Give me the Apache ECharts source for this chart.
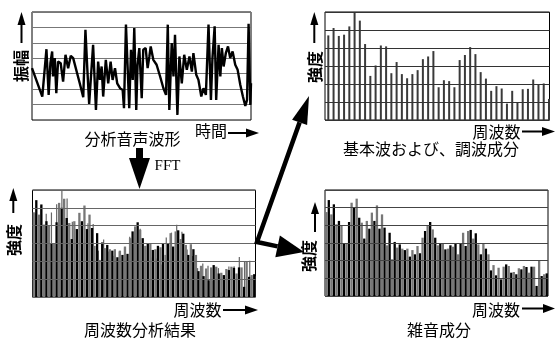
<!DOCTYPE html>
<html><head><meta charset="utf-8">
<script src="https://cdn.jsdelivr.net/npm/echarts/dist/echarts.min.js"></script>
<style>html,body{margin:0;padding:0;background:#fff}#c{width:556px;height:340px}</style>
</head><body><div id="c"></div>
<script>
// ---- data ----
const waveTime = [0,4.7,6.6,7.6,8.4,9.2,9.6,10.4,11.1,11.9,13.1,14.2,15.3,16.5,17.7,18.8,21.8,23.4,24.4,25.2,26.1,27.9,29.2,30.2,31.0,31.8,32.5,33.7,34.8,35.9,36.8,37.9,38.9,40.2,41.4,42.0,42.9,43.5,44.4,45.2,46.0,46.7,47.6,48.2,49.0,50.1,50.8,51.9,52.8,53.6,54.2,55.4,56.9,58.5,60.0,61.2,62.0,62.7,63.8,64.6,65.3,66.4,67.3,68.4,69.5,70.7,71.9,73.0,73.7,75.0,76.0,77.3,78.3,79.4,80.6,81.7,82.4,83.4,84.1,85.2,86.0,86.7,87.5,88.5,89.5,90.5,91.6,92.8,93.9,95.1,96.3,97.4,98.2,98.9,99.7,100];
const waveAmp = [3.36,1.52,4.59,1.63,3.68,4.44,2.82,4.01,1.73,3.79,3.68,2.49,4.23,3.36,4.16,4.01,2.38,1.47,5.85,3.47,1.04,4.88,0.65,3.79,2.60,3.47,1.52,3.90,2.38,3.79,2.60,3.36,2.38,2.06,1.95,0.76,6.18,6.07,0.76,4.55,2.60,5.96,0.65,3.58,4.66,1.41,4.55,4.66,3.36,4.12,4.77,3.90,3.58,2.82,2.06,1.63,6.18,0.65,4.98,2.82,5.53,0.33,4.12,2.38,4.23,3.25,4.12,3.14,4.33,2.93,2.60,1.52,2.06,1.63,6.18,1.30,4.01,6.07,1.30,4.88,2.82,4.66,3.47,4.33,4.77,4.01,4.44,3.58,3.25,2.28,1.52,0.91,1.30,6.24,0.98,2.38];
const harmonicLevels = [4.70,5.11,4.67,4.74,5.20,6.0,5.52,4.22,2.45,3.03,4.14,4.09,2.60,3.22,2.55,2.32,2.55,2.77,3.38,3.53,3.83,1.82,2.21,2.16,1.82,3.33,3.61,4.05,3.66,2.66,2.30,1.62,1.88,1.75,0.91,1.62,0.95,1.71,1.73,2.25,1.99,2.03,1.17];
const noiseLevels = [4.75,5.43,4.62,5.19,4.06,4.25,4.0,2.98,2.98,4.19,
5.28,5.0,5.51,4.43,4.15,3.25,4.25,3.81,4.72,4.25,
5.13,3.81,4.62,3.87,2.87,3.58,2.08,3.06,2.74,2.92,
2.68,2.60,2.68,2.23,2.60,2.36,2.83,2.42,3.30,3.68,
3.96,4.19,3.77,
3.30,2.87,2.98,2.98,2.64,2.68,2.87,2.79,2.98,2.36,
2.98,3.58,2.83,3.68,3.74,3.25,3.55,2.92,2.36,2.96,
2.68,2.36,1.45,1.75,1.17,1.60,0.94,1.66,1.79,1.70,
1.32,1.36,1.23,1.57,1.51,1.70,1.64,1.32,1.66,1.66,
0.57,1.98,1.13,1.23,1.28];
const labelAmplitude = '振幅';
const labelIntensity = '強度';
const labelTime = '時間';
const labelFreq = '周波数';
const captionWave = '分析音声波形';
const captionSpectrum = '周波数分析結果';
const captionHarmonic = '基本波および、調波成分';
const captionNoise = '雑音成分';
const labelFFT = 'FFT';

// ---- chart ----
const chart = echarts.init(document.getElementById('c'), null, {renderer:'canvas'});
const JP = '"Noto Sans CJK JP", sans-serif';
const harmPairs = harmonicLevels.map((v,i)=>[i,v]);
const noiseCats = noiseLevels.map((v,i)=>i);
const noiseColor = p => (p.dataIndex % 2 ? '#000' : '#777');

function yAx(grid, max, color, z){
  return {gridIndex:grid, type:'value', min:0, max:max, interval:1, z:z,
    axisLine:{show:false}, axisTick:{show:false}, axisLabel:{show:false},
    splitLine:{show:true, lineStyle:{color:color, width:1}}};
}
const gridBase = {show:true, borderColor:'#000', borderWidth:1, backgroundColor:'#fff'};

function txt(x,y,text,size,opts){
  opts = opts || {};
  return {type:'text', x:x, y:y, rotation:opts.rot||0, z:10,
    style:{text:text, x:0, y:0, fill:'#000', textAlign:'center', textVerticalAlign:'middle',
      font:(opts.weight||'normal')+' '+size+'px '+(opts.family||JP)}};
}
function upArrow(x, tip, base, end){
  return [
    {type:'line', z:10, shape:{x1:x,y1:end,x2:x,y2:base}, style:{stroke:'#000', lineWidth:2}},
    {type:'polygon', z:10, shape:{points:[[x,tip],[x-4,base],[x+4,base]]}, style:{fill:'#000'}}
  ];
}
function rightArrow(y, x0, hx, tip){
  return [
    {type:'line', z:10, shape:{x1:x0,y1:y,x2:hx,y2:y}, style:{stroke:'#000', lineWidth:2}},
    {type:'polygon', z:10, shape:{points:[[tip,y],[hx,y-4.5],[hx,y+4.5]]}, style:{fill:'#000'}}
  ];
}
function bigArrowHead(sx, sy, tx, ty, len, half){
  const dx = tx-sx, dy = ty-sy, L = Math.hypot(dx,dy);
  const ux = dx/L, uy = dy/L, bx = tx-ux*len, by = ty-uy*len;
  return {base:[bx,by], poly:[[tx,ty],[bx-uy*half, by+ux*half],[bx+uy*half, by-ux*half]]};
}
const S = [257, 242];
const h1 = bigArrowHead(S[0],S[1],309,96,28,8);
const h2 = bigArrowHead(S[0],S[1],304,252,27,11);

const graphics = [].concat(
  txt(21,66,labelAmplitude,16,{rot:Math.PI/2, weight:'bold'}),
  upArrow(21.5,12,25,43),
  txt(211,131,labelTime,16),
  rightArrow(133,228,246,259),
  txt(132.5,139,captionWave,16),
  [{type:'rect', z:10, shape:{x:136,y:148,width:7,height:11}, style:{fill:'#000'}},
   {type:'polygon', z:10, shape:{points:[[129,158],[150,158],[139.5,189]]}, style:{fill:'#000'}}],
  txt(167.5,166.5,labelFFT,15,{family:'"Liberation Serif", serif'}),
  txt(315,67,labelIntensity,16,{rot:Math.PI/2, weight:'bold'}),
  upArrow(314.3,12,25,43),
  txt(496.5,131.5,labelFreq,16),
  rightArrow(131.5,522,542,555),
  txt(431,148.5,captionHarmonic,16),
  txt(14,240,labelIntensity,16,{rot:Math.PI/2, weight:'bold'}),
  upArrow(13.3,188,201,213),
  txt(197.5,310,labelFreq,16),
  rightArrow(310,223,245,258),
  txt(140,329.5,captionSpectrum,16),
  txt(309,256,labelIntensity,16,{rot:Math.PI/2, weight:'bold'}),
  upArrow(315,202,214,232),
  txt(496,309.5,labelFreq,16),
  rightArrow(308.5,522,543,555),
  txt(439,329.5,captionNoise,16),
  [{type:'polyline', z:10, shape:{points:[h1.base, S, h2.base]}, style:{stroke:'#000', lineWidth:4.5, lineJoin:'miter', fill:null}},
   {type:'polygon', z:10, shape:{points:h1.poly}, style:{fill:'#000'}},
   {type:'polygon', z:10, shape:{points:h2.poly}, style:{fill:'#000'}}]
);

chart.setOption({
  animation:false,
  backgroundColor:'#fff',
  grid:[
    Object.assign({left:32, top:12, width:219, height:108}, gridBase),
    Object.assign({left:325, top:12, width:224.5, height:108}, gridBase),
    Object.assign({left:32.5, top:190, width:223, height:107}, gridBase),
    Object.assign({left:325, top:190, width:223, height:106}, gridBase)
  ],
  xAxis:[
    {gridIndex:0, type:'value', min:0, max:100, show:false},
    {gridIndex:1, type:'value', min:-0.63, max:42.1, show:false},
    {gridIndex:2, type:'category', data:noiseCats, boundaryGap:true, show:false},
    {gridIndex:2, type:'value', min:-0.63, max:42.1, show:false},
    {gridIndex:3, type:'category', data:noiseCats, boundaryGap:true, show:false}
  ],
  yAxis:[
    yAx(0,7,'#777',0),
    yAx(1,6,'#333',5),
    yAx(2,6,'#666',5),
    yAx(3,6,'#444',5)
  ],
  series:[
    {type:'line', xAxisIndex:0, yAxisIndex:0, data:waveTime.map((t,i)=>[t, waveAmp[i]]),
     showSymbol:false, lineStyle:{color:'#000', width:2.4}, z:3},
    {type:'bar', xAxisIndex:1, yAxisIndex:1, data:harmPairs, barWidth:2, itemStyle:{color:'#3a3a3a'}},
    {type:'bar', xAxisIndex:3, yAxisIndex:2, data:harmPairs, barWidth:1.2, itemStyle:{color:'#666'}, z:1},
    {type:'bar', xAxisIndex:2, yAxisIndex:2, data:noiseLevels, barWidth:2.3, itemStyle:{color:noiseColor}, z:2},
    {type:'bar', xAxisIndex:4, yAxisIndex:3, data:noiseLevels, barWidth:2.3, itemStyle:{color:noiseColor}, z:2}
  ],
  graphic:{elements:graphics}
});
</script>
</body></html>
